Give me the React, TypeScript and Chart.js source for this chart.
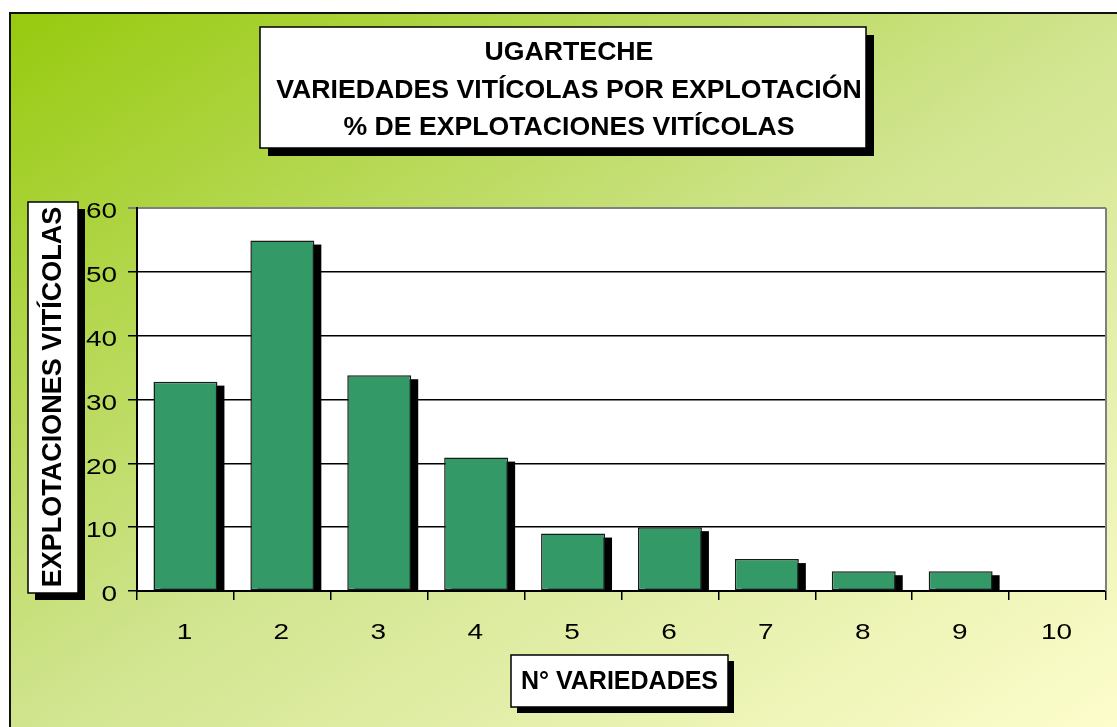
import React, { useEffect, useRef } from "react";
import { Chart, registerables } from "chart.js";

Chart.register(...registerables);

// Number of grape varieties per holding (category axis)
const categories = ["1", "2", "3", "4", "5", "6", "7", "8", "9", "10"];
// Share of wine-growing holdings, in %
const percentages = [32.8, 54.9, 33.8, 20.9, 9.0, 10.0, 5.0, 3.1, 3.1, 0];

const yMin = 0;
const yMax = 60;
const yStep = 10;

const titleLines = [
  "UGARTECHE",
  "VARIEDADES VITÍCOLAS POR EXPLOTACIÓN",
  "% DE EXPLOTACIONES VITÍCOLAS",
];
const yTitle = "EXPLOTACIONES VITÍCOLAS";
const xTitle = "N° VARIEDADES";

const FONT = '"Liberation Sans", Arial, Helvetica, sans-serif';
const W = 1117;
const H = 727;
// tick labels are drawn in a wide, stretched face
const TICK_SIZE = 21.5;
const TICK_STRETCH = 1.3;

type Box = { x: number; y: number; w: number; h: number; shadow: number };

function drawShadowBox(ctx: CanvasRenderingContext2D, b: Box) {
  ctx.save();
  ctx.fillStyle = "#000";
  ctx.fillRect(b.x + b.shadow, b.y + b.shadow, b.w, b.h);
  ctx.fillStyle = "#fff";
  ctx.fillRect(b.x, b.y, b.w, b.h);
  ctx.strokeStyle = "#000";
  ctx.lineWidth = 1.5;
  ctx.strokeRect(b.x, b.y, b.w, b.h);
  ctx.restore();
}

function stretchedText(
  ctx: CanvasRenderingContext2D,
  text: string,
  x: number,
  baseline: number,
  align: "left" | "center" | "right",
  sx: number
) {
  ctx.save();
  ctx.translate(x, baseline);
  ctx.scale(sx, 1);
  ctx.textAlign = align;
  ctx.textBaseline = "alphabetic";
  ctx.fillText(text, 0, 0);
  ctx.restore();
}

// Page background: framed diagonal green-to-cream gradient, white plot area
const backdropPlugin = {
  id: "backdrop",
  beforeDraw(chart: any) {
    const ctx: CanvasRenderingContext2D = chart.ctx;
    const { left, top, right, bottom } = chart.chartArea;
    ctx.save();
    ctx.fillStyle = "#fff";
    ctx.fillRect(0, 0, W, H);
    const g = ctx.createLinearGradient(10, 13, 661, 1022);
    g.addColorStop(0, "#97ca0e");
    g.addColorStop(0.5, "#d0e48e");
    g.addColorStop(1, "#fdfdcc");
    ctx.fillStyle = g;
    ctx.fillRect(10, 13, W - 10, H - 13);
    ctx.strokeStyle = "#111";
    ctx.lineWidth = 2;
    ctx.beginPath();
    ctx.moveTo(10, H + 5);
    ctx.lineTo(10, 13);
    ctx.lineTo(W + 5, 13);
    ctx.stroke();
    ctx.fillStyle = "#fff";
    ctx.fillRect(left, top, right - left, bottom - top);
    ctx.restore();
  },
};

// Offset black shadow behind every bar
const barShadowPlugin = {
  id: "barShadow",
  beforeDatasetsDraw(chart: any) {
    const ctx: CanvasRenderingContext2D = chart.ctx;
    const meta = chart.getDatasetMeta(0);
    ctx.save();
    ctx.fillStyle = "#000";
    meta.data.forEach((bar: any) => {
      const { x, y, base, width } = bar.getProps(["x", "y", "base", "width"], true);
      const hgt = base - y - 4;
      if (hgt <= 0) return;
      ctx.fillRect(x - width / 2 + 7, y + 4, width, hgt);
    });
    ctx.restore();
  },
};

// Tick labels placed from the scales' own tick positions
const tickLabelPlugin = {
  id: "tickLabels",
  afterDraw(chart: any) {
    const ctx: CanvasRenderingContext2D = chart.ctx;
    const xs = chart.scales.x;
    const ys = chart.scales.y;
    ctx.save();
    ctx.fillStyle = "#000";
    ctx.font = `${TICK_SIZE}px ${FONT}`;
    const half = TICK_SIZE * 0.358;
    ys.ticks.forEach((t: any, i: number) => {
      const py = ys.getPixelForTick(i);
      stretchedText(ctx, String(t.label), ys.right - 20, py + 2.5 + half, "right", TICK_STRETCH);
    });
    xs.ticks.forEach((t: any, i: number) => {
      const px = xs.getPixelForTick(i);
      stretchedText(ctx, String(t.label), px - 1, 631 + half, "center", TICK_STRETCH);
    });
    ctx.restore();
  },
};

// Grey plot frame on the right, boxed titles
const framePlugin = {
  id: "frames",
  afterDraw(chart: any) {
    const ctx: CanvasRenderingContext2D = chart.ctx;
    const { top, right, bottom } = chart.chartArea;
    ctx.save();
    ctx.strokeStyle = "#808080";
    ctx.lineWidth = 2;
    ctx.beginPath();
    ctx.moveTo(right, top);
    ctx.lineTo(right, bottom);
    ctx.stroke();

    // main title
    drawShadowBox(ctx, { x: 260, y: 27, w: 606, h: 121, shadow: 8 });
    ctx.fillStyle = "#000";
    ctx.font = `bold 26px ${FONT}`;
    const ys = [50, 88, 125];
    titleLines.forEach((t, i) => stretchedText(ctx, t, 569, ys[i] + 9.5, "center", 1.025));

    // y-axis title
    drawShadowBox(ctx, { x: 28, y: 202, w: 50, h: 391, shadow: 7 });
    ctx.save();
    ctx.translate(54, 397);
    ctx.rotate(-Math.PI / 2);
    ctx.font = `bold 27px ${FONT}`;
    ctx.textAlign = "center";
    ctx.textBaseline = "middle";
    ctx.fillText(yTitle, 0, 0);
    ctx.restore();

    // x-axis title
    drawShadowBox(ctx, { x: 511, y: 655, w: 217, h: 52, shadow: 6 });
    ctx.font = `bold 25px ${FONT}`;
    ctx.textAlign = "center";
    ctx.textBaseline = "middle";
    ctx.fillText(xTitle, 619.5, 682);
    ctx.restore();
  },
};

export default function App() {
  const ref = useRef<HTMLCanvasElement>(null);

  useEffect(() => {
    if (!ref.current) return;
    const chart = new Chart(ref.current, {
      type: "bar",
      data: {
        labels: categories,
        datasets: [
          {
            data: percentages,
            backgroundColor: "#339966",
            borderColor: "#1a1a1a",
            borderWidth: 1.5,
            borderSkipped: false,
            categoryPercentage: 1,
            barPercentage: 0.66,
          },
        ],
      },
      options: {
        animation: false,
        responsive: false,
        devicePixelRatio: 1,
        layout: { padding: { left: 0, top: 208, right: 11, bottom: 76 } },
        plugins: {
          legend: { display: false },
          tooltip: { enabled: false },
          title: { display: false },
        },
        scales: {
          x: {
            afterFit: (s: any) => {
              s.height = 60;
            },
            grid: {
              offset: true,
              drawOnChartArea: false,
              drawTicks: true,
              tickLength: 9,
              color: "#000",
              lineWidth: 1.5,
            },
            border: { color: "#000", width: 2 },
            ticks: { display: false },
          },
          y: {
            min: yMin,
            max: yMax,
            afterFit: (s: any) => {
              s.width = 137;
            },
            grid: {
              drawTicks: true,
              tickLength: 9,
              color: (c: any) => (c.tick && c.tick.value === yMax ? "#808080" : "#000"),
              lineWidth: (c: any) => (c.tick && c.tick.value === yMax ? 2 : 1.5),
            },
            border: { color: "#000", width: 2 },
            ticks: { stepSize: yStep, display: false },
          },
        },
      },
      plugins: [backdropPlugin, barShadowPlugin, tickLabelPlugin, framePlugin],
    });
    return () => chart.destroy();
  }, []);

  return (
    <div style={{ position: "absolute", left: 0, top: 0, width: W, height: H, overflow: "hidden" }}>
      <canvas ref={ref} width={W} height={H} style={{ display: "block" }} />
    </div>
  );
}
